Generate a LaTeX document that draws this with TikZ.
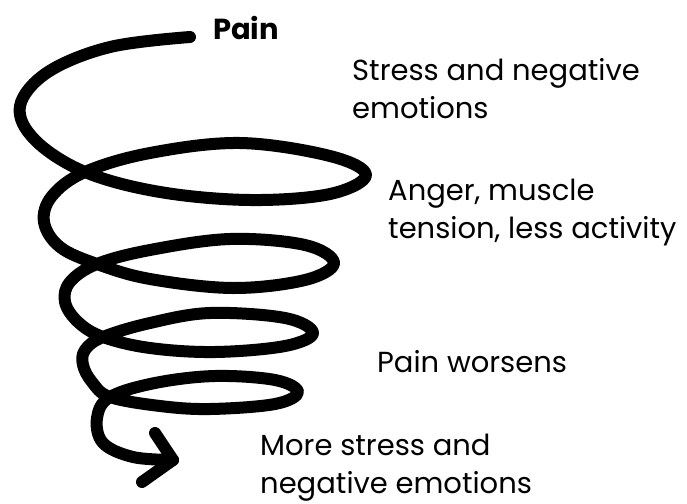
\documentclass[tikz,border=0pt]{standalone}
\usepackage{fontspec}
\setmainfont{Poppins}
\usetikzlibrary{positioning}

\begin{document}
\begin{tikzpicture}[x=1pt, y=-1pt,
    label/.style={anchor=base west, inner sep=0pt, align=left, font=\fontsize{29}{38}\selectfont},
    coil/.style={line width=12pt, line cap=round, line join=round}]

    \useasboundingbox (0,0) rectangle (687,503);

    % the spiral
    \draw[coil] plot[smooth, tension=0.6] coordinates {
        (190,37) (110,47) (48,72) (20,106) (35,140) (85,172)
        (160,192) (250,200) (330,194) (366,175) (330,156) (240,143) (150,153) (85,172)
        (52,196) (44,222) (60,247) (97,264)
        (150,279) (233,288) (305,280) (334,263) (305,245) (230,239) (150,250) (97,264)
        (70,282) (65,302) (78,322) (103,337)
        (150,348) (215,352) (285,346) (313,333) (285,318) (210,313) (150,323) (103,337)
        (85,350) (83,365) (92,382) (110,397)
        (160,406) (210,409) (275,404) (298,392) (275,380) (215,376) (155,383) (110,397)
        (97,418) (103,443) (133,457) (173,460)};
    % arrow head
    \draw[coil] (155,433) -- (173,460) -- (142,482);

    \node[label, font=\fontsize{29}{38}\selectfont\bfseries] (pain) at (213,40) {Pain};
    \node[label] (stress) at (352,118) {Stress and negative\\emotions};
    \node[label] (anger) at (388,238) {Anger, muscle\\tension, less activity};
    \node[label] (worse) at (377,372) {Pain worsens};
    \node[label] (more) at (260,493) {More stress and\\negative emotions};

\end{tikzpicture}
\end{document}
